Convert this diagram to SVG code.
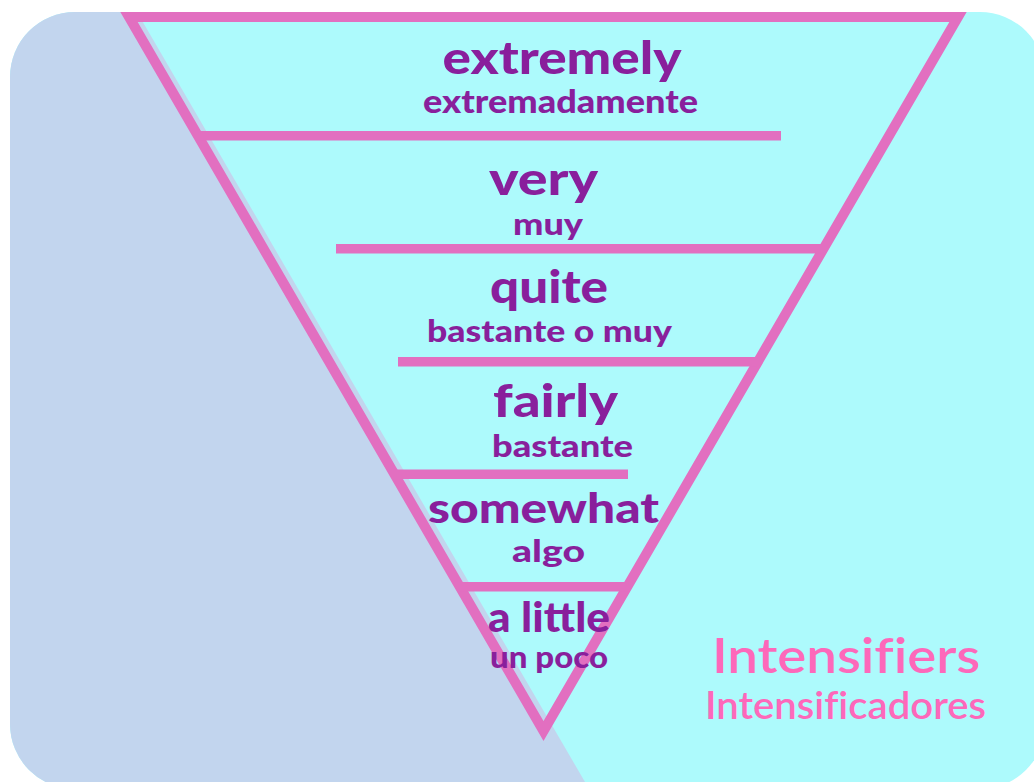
<svg xmlns="http://www.w3.org/2000/svg" width="1034" height="782" viewBox="0 0 1034 782">
<style>
.main{font-family:"Lato","Liberation Sans",sans-serif;font-weight:900;fill:#891f9c;text-anchor:middle}
.sub{font-family:"Lato","Liberation Sans",sans-serif;font-weight:900;fill:#891f9c;text-anchor:middle}
.title{font-family:"Lato","Liberation Sans",sans-serif;font-weight:600;fill:#fd68ba;text-anchor:middle;font-variant-ligatures:none}
.bar{fill:#e26fc0}
</style>
<defs>
<clipPath id="bgclip"><rect x="10" y="12" width="1035" height="777" rx="65" ry="65"/></clipPath>
</defs>
<g id="background">
<rect x="10" y="12" width="1035" height="777" rx="65" ry="65" fill="#adfafc"/>
<polygon points="0,0 137,0 137,12 585,782 0,782" fill="#c2d5ee" clip-path="url(#bgclip)"/>
</g>
<g id="pyramid">
<polygon points="129,17 958,17 543.5,731" fill="none" stroke="#e26fc0" stroke-width="10" stroke-linejoin="miter" stroke-miterlimit="10"/>
</g>
<g id="dividers">
<rect class="bar" x="197" y="131" width="584" height="9.5"/>
<rect class="bar" x="336" y="244" width="486" height="9.5"/>
<rect class="bar" x="398" y="357" width="359" height="9.5"/>
<rect class="bar" x="394" y="469.5" width="234" height="9.5"/>
<rect class="bar" x="459" y="582" width="169" height="9.5"/>
</g>
<g id="level-extremely">
<text class="main" x="562" y="74" font-size="46" textLength="239" lengthAdjust="spacingAndGlyphs">extremely</text>
<text class="sub" x="560.5" y="113" font-size="33" textLength="275" lengthAdjust="spacingAndGlyphs">extremadamente</text>
</g>
<g id="level-very">
<text class="main" x="543.5" y="195" font-size="46" textLength="109" lengthAdjust="spacingAndGlyphs">very</text>
<text class="sub" x="548" y="235" font-size="31" textLength="70" lengthAdjust="spacingAndGlyphs">muy</text>
</g>
<g id="level-quite">
<text class="main" x="549" y="303" font-size="45" textLength="118" lengthAdjust="spacingAndGlyphs">quite</text>
<text class="sub" x="549.5" y="342" font-size="31" textLength="245" lengthAdjust="spacingAndGlyphs">bastante o muy</text>
</g>
<g id="level-fairly">
<text class="main" x="555.5" y="417" font-size="46" textLength="125" lengthAdjust="spacingAndGlyphs">fairly</text>
<text class="sub" x="562.5" y="457" font-size="31" textLength="141" lengthAdjust="spacingAndGlyphs">bastante</text>
</g>
<g id="level-somewhat">
<text class="main" x="543.5" y="523" font-size="42" textLength="231" lengthAdjust="spacingAndGlyphs">somewhat</text>
<text class="sub" x="548.5" y="562" font-size="31" textLength="73" lengthAdjust="spacingAndGlyphs">algo</text>
</g>
<g id="level-a-little">
<text class="main" x="549" y="632" font-size="41" textLength="122" lengthAdjust="spacingAndGlyphs">a little</text>
<text class="sub" x="549" y="668" font-size="30" textLength="118" lengthAdjust="spacingAndGlyphs">un poco</text>
</g>
<g id="title">
<text class="title" x="846" y="673" font-size="48" textLength="268" lengthAdjust="spacingAndGlyphs">Intensifiers</text>
<text class="title" x="845.5" y="719" font-size="38" textLength="281" lengthAdjust="spacingAndGlyphs">Intensificadores</text>
</g>
</svg>
